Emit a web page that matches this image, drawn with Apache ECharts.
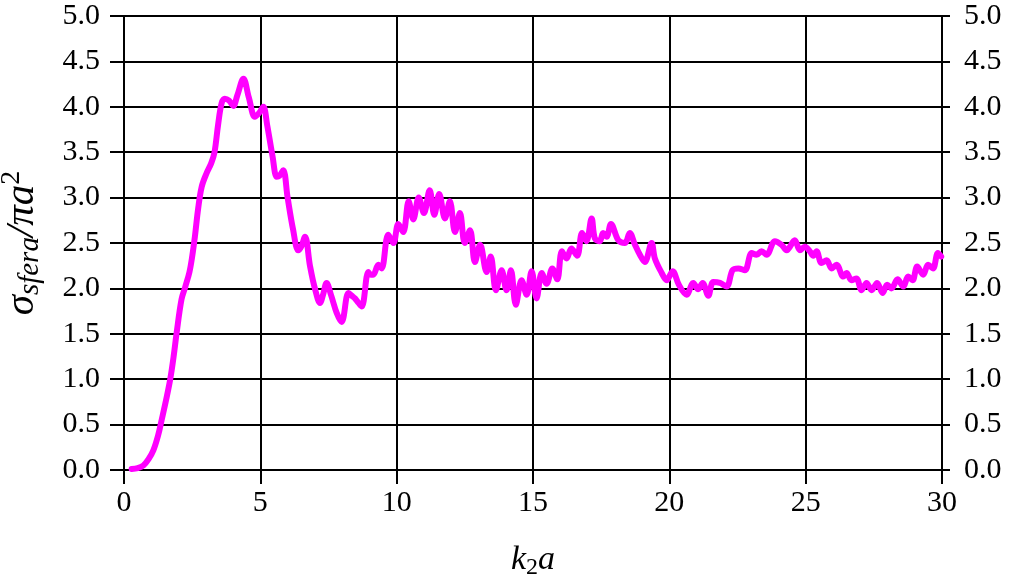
<!DOCTYPE html>
<html>
<head>
<meta charset="utf-8">
<script src="https://cdn.jsdelivr.net/npm/echarts@6/dist/echarts.min.js"></script>
<style>
html,body{margin:0;padding:0;background:#fff;}
#chart{width:1013px;height:578px;}
</style>
</head>
<body>
<div id="chart"></div>
<script>
// k2a values
const k2a = [0.28,0.5,0.71,0.9,1.08,1.25,1.38,1.55,1.69,1.82,1.93,2.11,2.25,2.40,2.5,2.60,2.72,2.85,3.03,3.20,3.32,3.45,3.58,3.70,3.85,4.01,4.15,4.38,4.58,4.80,4.95,5.11,5.25,5.45,5.60,5.70,5.84,6.0,6.2,6.39,6.50,6.64,6.82,7.0,7.19,7.30,7.43,7.6,7.8,7.98,8.23,8.35,8.47,8.6,8.72,8.96,9.05,9.14,9.33,9.45,9.69,9.88,10.06,10.24,10.44,10.61,10.81,11.0,11.21,11.38,11.56,11.77,11.95,12.14,12.32,12.50,12.69,12.87,13.06,13.30,13.45,13.64,13.85,14.03,14.19,14.37,14.58,14.77,14.95,15.13,15.32,15.50,15.71,15.89,16.06,16.23,16.41,16.62,16.80,16.96,17.15,17.27,17.45,17.57,17.70,17.86,18.13,18.37,18.55,18.74,18.92,19.1,19.35,19.47,19.72,19.90,20.12,20.35,20.63,20.88,21.06,21.22,21.43,21.61,21.86,22.1,22.32,22.53,22.77,23.02,23.20,23.38,23.57,23.87,24.12,24.30,24.60,24.79,24.97,25.15,25.28,25.40,25.58,25.77,25.95,26.13,26.38,26.50,26.68,26.86,27.05,27.23,27.42,27.62,27.82,27.99,28.15,28.37,28.58,28.76,28.92,29.09,29.31,29.49,29.67,29.85,29.97];
// sigma_sfera / (pi a^2)
const sigma = [0.01,0.02,0.05,0.12,0.22,0.38,0.55,0.78,0.99,1.25,1.51,1.88,2.02,2.18,2.35,2.57,2.88,3.12,3.27,3.38,3.50,3.80,4.04,4.09,4.07,4.01,4.12,4.31,4.10,3.89,3.93,4.00,3.80,3.45,3.23,3.24,3.30,3.0,2.65,2.42,2.46,2.57,2.25,2.0,1.84,1.93,2.06,1.92,1.73,1.63,1.95,1.92,1.89,1.84,1.80,2.18,2.15,2.15,2.26,2.22,2.59,2.50,2.71,2.62,2.96,2.76,3.00,2.83,3.08,2.81,3.04,2.77,2.96,2.62,2.83,2.50,2.64,2.29,2.48,2.18,2.35,1.98,2.20,1.98,2.20,1.82,2.09,1.93,2.19,1.89,2.17,2.05,2.22,2.10,2.41,2.33,2.44,2.36,2.61,2.52,2.77,2.55,2.52,2.61,2.57,2.71,2.53,2.50,2.61,2.48,2.37,2.29,2.50,2.33,2.17,2.09,2.19,2.04,1.93,2.06,1.99,2.06,1.92,2.07,2.06,2.02,2.20,2.22,2.20,2.39,2.37,2.41,2.37,2.52,2.48,2.42,2.53,2.42,2.46,2.41,2.36,2.41,2.28,2.31,2.22,2.26,2.13,2.17,2.09,2.11,1.98,2.06,1.98,2.06,1.95,2.04,2.00,2.10,2.02,2.13,2.09,2.24,2.15,2.26,2.22,2.39,2.35];
const xTicks = [0,5,10,15,20,25,30];
const yTicks = [0.0,0.5,1.0,1.5,2.0,2.5,3.0,3.5,4.0,4.5,5.0];

const FONT = 'Liberation Serif';
const data = k2a.map((x,i)=>[x, sigma[i]]);

const chart = echarts.init(document.getElementById('chart'), null, {renderer:'canvas'});
const yLabelBase = {fontFamily: FONT, fontSize: 30, color: '#000'};
chart.setOption({
  animation: false,
  backgroundColor: '#fff',
  grid: {left: 124, right: 71, top: 16, bottom: 108, containLabel: false, outerBoundsMode: 'none'},
  xAxis: [{
    type: 'value', min: xTicks[0], max: xTicks[xTicks.length-1], interval: 5,
    position: 'bottom',
    name: '{i|k}{sub|2}{i|a}',
    nameLocation: 'middle', nameGap: 70,
    nameTextStyle: {
      rich: {
        i: {fontFamily: FONT, fontStyle: 'italic', fontSize: 34, color: '#000'},
        sub: {fontFamily: FONT, fontSize: 24, color: '#000', padding: [16,0,0,0]}
      }
    },
    axisLine: {show: true, onZero: false, lineStyle: {color: '#000', width: 2}},
    axisTick: {show: true, length: 14, lineStyle: {color: '#000', width: 2}},
    axisLabel: {margin: 18, fontFamily: FONT, fontSize: 30, color: '#000'},
    splitLine: {show: true, lineStyle: {color: '#000', width: 2}}
  }],
  yAxis: [{
    type: 'value', min: yTicks[0], max: yTicks[yTicks.length-1], interval: 0.5,
    position: 'left',
    name: '{s|σ}{sub|sfera}{s|/πa}{sup|2}',
    nameLocation: 'middle', nameGap: 78, nameRotate: 90,
    nameTextStyle: {
      rich: {
        s: {fontFamily: FONT, fontStyle: 'italic', fontSize: 41, color: '#000'},
        sub: {fontFamily: FONT, fontStyle: 'italic', fontSize: 29, color: '#000', padding: [17,0,0,0]},
        sup: {fontFamily: FONT, fontSize: 28, color: '#000', padding: [0,0,20,0]}
      }
    },
    axisLine: {show: true, onZero: false, lineStyle: {color: '#000', width: 2}},
    axisTick: {show: true, length: 14, lineStyle: {color: '#000', width: 2}},
    axisLabel: {margin: 24, formatter: v => v.toFixed(1), ...yLabelBase},
    splitLine: {show: true, lineStyle: {color: '#000', width: 2}}
  }, {
    type: 'value', min: yTicks[0], max: yTicks[yTicks.length-1], interval: 0.5,
    position: 'right',
    axisLine: {show: true, onZero: false, lineStyle: {color: '#000', width: 2}},
    axisTick: {show: true, length: 8, lineStyle: {color: '#000', width: 2}},
    axisLabel: {margin: 22, formatter: v => v.toFixed(1), ...yLabelBase},
    splitLine: {show: false}
  }],
  series: [{
    type: 'line',
    data: data,
    xAxisIndex: 0, yAxisIndex: 0,
    showSymbol: false,
    smooth: 0.35,
    lineStyle: {color: '#ff00ff', width: 6, cap: 'round', join: 'round'},
    itemStyle: {color: '#ff00ff'},
    z: 10
  }]
});
</script>
</body>
</html>
